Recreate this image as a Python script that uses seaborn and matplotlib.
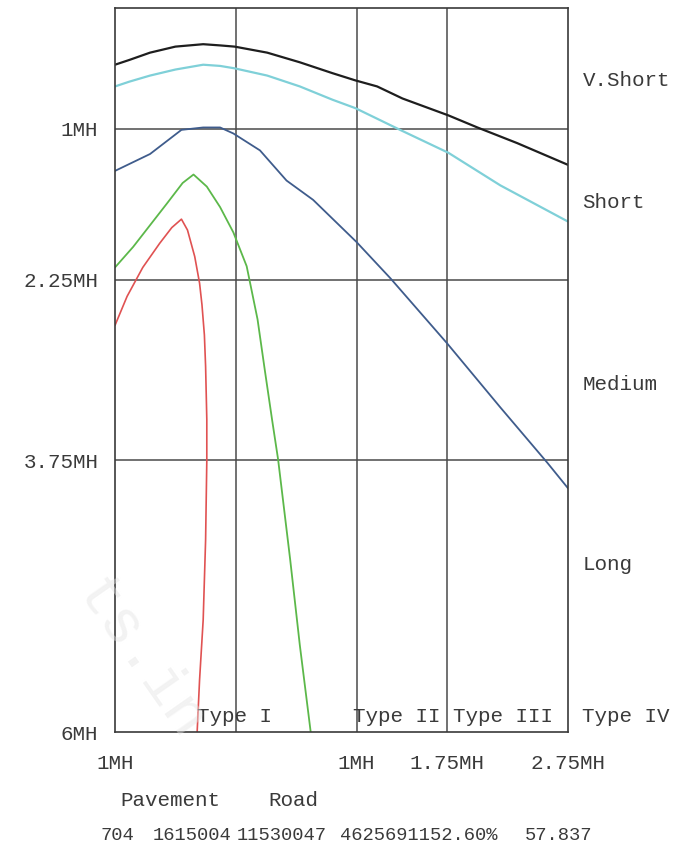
import matplotlib
matplotlib.use('Agg')
import matplotlib.pyplot as plt
import seaborn as sns
import pandas as pd
import numpy as np

sns.set_style("white")
plt.rcParams['font.family'] = ['Liberation Mono', 'DejaVu Sans Mono']

# curve data (x in chart units, y grows downward)
vshort_x = [0, 0.12, 0.29, 0.50, 0.73, 0.87, 0.99, 1.26, 1.53, 1.80, 1.99, 2.17, 2.38, 2.76, 3.00, 3.33, 3.75]
vshort_y = [0.47, 0.43, 0.37, 0.32, 0.30, 0.31, 0.32, 0.37, 0.45, 0.54, 0.60, 0.65, 0.75, 0.89, 0.99, 1.12, 1.30]

short_x = [0, 0.12, 0.29, 0.50, 0.73, 0.87, 0.99, 1.26, 1.53, 1.80, 1.99, 2.36, 2.76, 3.19, 3.75]
short_y = [0.65, 0.61, 0.56, 0.51, 0.47, 0.48, 0.50, 0.56, 0.65, 0.76, 0.83, 1.01, 1.20, 1.47, 1.77]

medium_x = [0, 0.29, 0.55, 0.73, 0.87, 0.98, 1.20, 1.42, 1.64, 2.00, 2.28, 2.75, 3.19, 3.58, 3.75]
medium_y = [1.35, 1.21, 1.01, 0.99, 0.99, 1.04, 1.18, 1.43, 1.59, 1.94, 2.24, 2.78, 3.31, 3.77, 3.98]

long_x = [0, 0.15, 0.29, 0.43, 0.56, 0.65, 0.76, 0.87, 0.98, 1.09, 1.18, 1.24, 1.30, 1.35, 1.45, 1.53, 1.62]
long_y = [2.15, 1.98, 1.80, 1.62, 1.45, 1.38, 1.48, 1.65, 1.86, 2.14, 2.58, 3.00, 3.41, 3.74, 4.57, 5.28, 6.0]

road_x = [0, 0.10, 0.23, 0.37, 0.47, 0.55, 0.60, 0.66, 0.70, 0.72, 0.74, 0.75, 0.76, 0.76, 0.75, 0.73, 0.70, 0.68]
road_y = [2.63, 2.39, 2.15, 1.95, 1.82, 1.75, 1.84, 2.06, 2.28, 2.46, 2.71, 2.97, 3.41, 3.75, 4.41, 5.07, 5.57, 6.0]

x_ticks = [0, 1, 2, 2.75, 3.75]
x_labels = ['1MH', '', '1MH', '1.75MH', '2.75MH']
y_ticks = [1, 2.25, 3.75, 6]
y_labels = ['1MH', '2.25MH', '3.75MH', '6MH']

band_labels = ['V.Short', 'Short', 'Medium', 'Long']
band_pos = [0.60, 1.61, 3.12, 4.61]
type_labels = ['Type I', 'Type II', 'Type III', 'Type IV']
footer_labels = ['Pavement', 'Road']
footer_numbers = ['704', '1615004', '11530047', '4625691152.60%', '57.837']

frames = []
for name, xs, ys in [('vshort', vshort_x, vshort_y), ('short', short_x, short_y),
                     ('medium', medium_x, medium_y), ('long', long_x, long_y),
                     ('road', road_x, road_y)]:
    frames.append(pd.DataFrame({'x': xs, 'y': ys, 'series': name}))
df = pd.concat(frames, ignore_index=True)

palette = {'vshort': '#1e1e1e', 'short': '#7fd0d8', 'medium': '#3f5c8c',
           'long': '#5cb84a', 'road': '#e05252'}
widths = {'vshort': 1.6, 'short': 1.6, 'medium': 1.3, 'long': 1.3, 'road': 1.2}

fig = plt.figure(figsize=(6.97, 8.5), dpi=100)
ax = fig.add_axes([115 / 697, 1 - 732 / 850, 453 / 697, 724 / 850])

for name, sub in df.groupby('series', sort=False):
    sns.lineplot(data=sub, x='x', y='y', sort=False, estimator=None,
                 color=palette[name], linewidth=widths[name], ax=ax, legend=False)

ax.set_xlim(0, 3.75)
ax.set_ylim(6, 0)
ax.set_xlabel('')
ax.set_ylabel('')

grid_col = '#4a4a4a'
for gx in [1, 2, 2.75]:
    ax.axvline(gx, color=grid_col, lw=1.1, zorder=0)
for gy in [1, 2.25, 3.75]:
    ax.axhline(gy, color=grid_col, lw=1.1, zorder=0)
for s in ax.spines.values():
    s.set_color('#3a3a3a')
    s.set_linewidth(1.2)

txt_col = '#3a3a3a'
fs = 15
ax.set_xticks(x_ticks)
ax.set_xticklabels(x_labels, fontsize=fs, color=txt_col)
ax.set_yticks(y_ticks)
ax.set_yticklabels(y_labels, fontsize=fs, color=txt_col)
ax.tick_params(axis='x', length=0, pad=16)
ax.tick_params(axis='y', length=0, pad=12)
t = ax.yaxis.get_major_ticks()[2]
t.tick1line.set_markersize(8)
t.tick1line.set_color(grid_col)

for lab, yp in zip(band_labels, band_pos):
    ax.text(3.87, yp, lab, fontsize=fs, color=txt_col, ha='left', va='center', clip_on=False)

ax.text(0.99, 5.87, type_labels[0], fontsize=fs, color=txt_col, ha='center', va='center')
ax.text(1.97, 5.87, type_labels[1], fontsize=fs, color=txt_col, ha='left', va='center')
ax.text(2.80, 5.87, type_labels[2], fontsize=fs, color=txt_col, ha='left', va='center')
ax.text(3.87, 5.87, type_labels[3], fontsize=fs, color=txt_col, ha='left', va='center', clip_on=False)

# faint watermark
fig.text(140 / 697, 1 - 660 / 850, 'ts.in', fontsize=44, color='#e4e4e4', alpha=0.45,
         rotation=-55, ha='center', va='center', zorder=0)

fig.text(120 / 697, 1 - 800 / 850, footer_labels[0], fontsize=fs, color=txt_col, va='center')
fig.text(268 / 697, 1 - 800 / 850, footer_labels[1], fontsize=fs, color=txt_col, va='center')

row_y = 1 - 836 / 850
for s, px in zip(footer_numbers, [100, 153, 237, 340, 525]):
    fig.text(px / 697, row_y, s, fontsize=13.5, color=txt_col, va='center')

plt.savefig('out.png', dpi=100)
plt.close()
